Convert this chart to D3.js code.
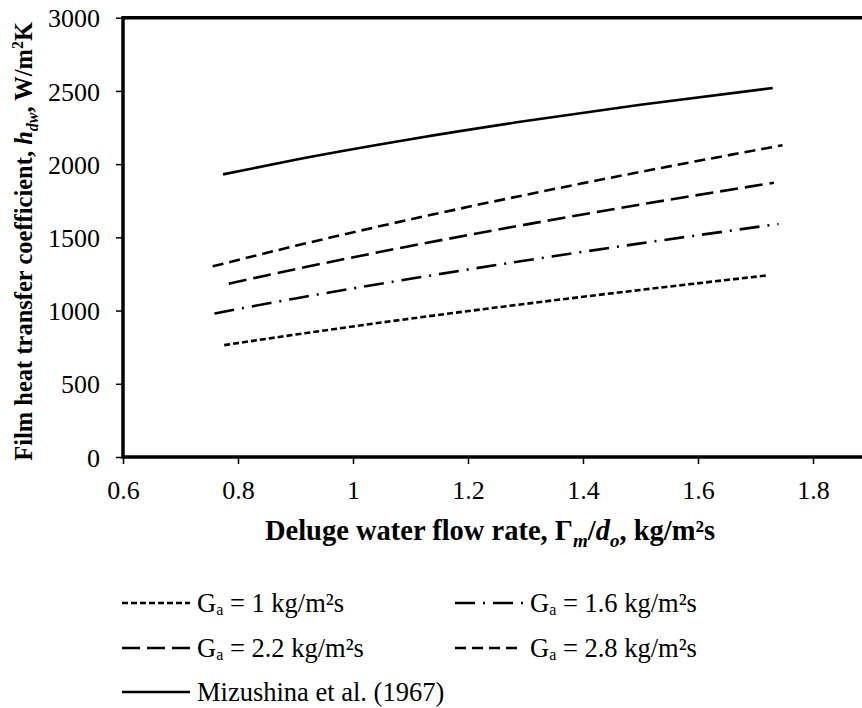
<!DOCTYPE html>
<html><head><meta charset="utf-8">
<script src="https://cdn.jsdelivr.net/npm/d3@7"></script>
<style>
body{margin:0;background:#fff}
svg{display:block}
svg text{font-family:'Liberation Serif','Times New Roman',serif !important;fill:#000}
</style>
</head><body>
<script>
// ---- data ----
const xTicks = [0.6, 0.8, 1, 1.2, 1.4, 1.6, 1.8];
const yTicks = [0, 500, 1000, 1500, 2000, 2500, 3000];

const ga1X   = [0.776, 0.9, 1.1, 1.3, 1.5, 1.723];
const ga1Y   = [764, 836, 945, 1046, 1141, 1241];
const ga16X  = [0.759, 0.9, 1.1, 1.3, 1.5, 1.740];
const ga16Y  = [980, 1083, 1217, 1342, 1459, 1591];
const ga22X  = [0.784, 0.9, 1.1, 1.3, 1.5, 1.732];
const ga22Y  = [1184, 1283, 1441, 1587, 1724, 1873];
const ga28X  = [0.756, 0.9, 1.1, 1.3, 1.5, 1.747];
const ga28Y  = [1302, 1442, 1623, 1790, 1947, 2129];
const mizX   = [0.774, 0.9, 1.1, 1.3, 1.5, 1.730];
const mizY   = [1930, 2030, 2170, 2294, 2406, 2520];

const seriesNames = ["Ga1", "Ga16", "Ga22", "Ga28", "Miz"];
const legendLabels = [
  ["G", "a", " = 1 kg/m²s"],
  ["G", "a", " = 1.6 kg/m²s"],
  ["G", "a", " = 2.2 kg/m²s"],
  ["G", "a", " = 2.8 kg/m²s"],
  ["Mizushina et al. (1967)", "", ""]
];

// ---- styles / layout ----
const dashes = ["6,3", "20,8,2,8", "18,7", "11,6", null];
const W = 862, H = 708;
const pLeft = 123, pRight = 813, pTop = 17.7, pBottom = 457;
const FONT = "'Liberation Serif','Times New Roman',serif";

const series = [
  [ga1X, ga1Y], [ga16X, ga16Y], [ga22X, ga22Y], [ga28X, ga28Y], [mizX, mizY]
].map((p, i) => ({name: seriesNames[i], pts: p[0].map((x, j) => [x, p[1][j]])}));

const svg = d3.select("body").append("svg").attr("width", W).attr("height", H)
  .attr("font-family", FONT);

const x = d3.scaleLinear().domain([0.6, 1.8]).range([pLeft, pRight]);
const y = d3.scaleLinear().domain([0, 3000]).range([pBottom, pTop]);

// axes
const xAxis = svg.append("g").attr("transform", `translate(0,${pBottom})`)
  .call(d3.axisBottom(x).tickValues(xTicks).tickSize(7).tickSizeOuter(0).tickFormat(d3.format("~g")));
const yAxis = svg.append("g").attr("transform", `translate(${pLeft},0)`)
  .call(d3.axisLeft(y).tickValues(yTicks).tickSize(7).tickSizeOuter(0).tickFormat(d3.format("d")));
[xAxis, yAxis].forEach(g => {
  g.attr("font-family", FONT).attr("font-size", 26);
  g.select(".domain").remove();
  g.selectAll(".tick line").attr("stroke", "#000").attr("stroke-width", 1.5);
  g.selectAll(".tick text").attr("fill", "#000");
});
xAxis.selectAll(".tick text").attr("dy", null).attr("y", 42);
yAxis.selectAll(".tick text").attr("x", -23).attr("dy", "0.35em");

// frame lines (plot extends past right edge)
svg.append("line").attr("x1", pLeft).attr("x2", W + 5).attr("y1", pTop).attr("y2", pTop)
  .attr("stroke", "#000").attr("stroke-width", 3.5);
svg.append("line").attr("x1", pLeft).attr("x2", W + 5).attr("y1", pBottom).attr("y2", pBottom)
  .attr("stroke", "#000").attr("stroke-width", 3.5);
svg.append("line").attr("x1", pLeft).attr("x2", pLeft).attr("y1", pTop - 1.75).attr("y2", pBottom + 1.75)
  .attr("stroke", "#000").attr("stroke-width", 3.5);

// lines
const line = d3.line().x(d => x(d[0])).y(d => y(d[1])).curve(d3.curveMonotoneX);
svg.append("g").selectAll("path").data(series).join("path")
  .attr("d", d => line(d.pts))
  .attr("fill", "none").attr("stroke", "#000").attr("stroke-width", 2.6)
  .attr("stroke-dasharray", (d, i) => dashes[i]);

// axis titles
const xt = svg.append("text").attr("x", 490).attr("y", 540)
  .attr("text-anchor", "middle").style("font-size", "28.5px").style("font-weight", "bold");
xt.append("tspan").text("Deluge water flow rate, Γ");
xt.append("tspan").text("m").style("font-style", "italic").style("font-size", "19px").attr("dy", 7);
xt.append("tspan").text("/").attr("dy", -7);
xt.append("tspan").text("d").style("font-style", "italic");
xt.append("tspan").text("o").style("font-style", "italic").style("font-size", "19px").attr("dy", 7);
xt.append("tspan").text(", kg/m²s").attr("dy", -7);

const yt = svg.append("text").attr("transform", `translate(32,${(pTop + pBottom) / 2 + 4}) rotate(-90)`)
  .attr("text-anchor", "middle").style("font-size", "24.5px").style("font-weight", "bold");
yt.append("tspan").text("Film heat transfer coefficient, ");
yt.append("tspan").text("h").style("font-style", "italic");
yt.append("tspan").text("dw").style("font-style", "italic").style("font-size", "16px").attr("dy", 6);
yt.append("tspan").text(", W/m").attr("dy", -6);
yt.append("tspan").text("2").style("font-size", "16px").attr("dy", -9);
yt.append("tspan").text("K").attr("dy", 9);

// legend
const legPos = [[122, 603], [455, 603], [122, 648], [455, 648], [122, 692]];
const leg = svg.append("g").selectAll("g").data(series).join("g")
  .attr("transform", (d, i) => `translate(${legPos[i][0]},${legPos[i][1]})`);
leg.append("line").attr("x1", 0).attr("x2", 68).attr("y1", 0).attr("y2", 0)
  .attr("stroke", "#000").attr("stroke-width", 2.6)
  .attr("stroke-dasharray", (d, i) => dashes[i]);
const lt = leg.append("text").attr("x", 75).attr("y", 9).style("font-size", "26.5px");
lt.append("tspan").text((d, i) => legendLabels[i][0]);
lt.append("tspan").text((d, i) => legendLabels[i][1]).style("font-size", "16px").attr("dy", 3);
lt.append("tspan").text((d, i) => legendLabels[i][2]).attr("dy", (d, i) => legendLabels[i][1] ? -3 : 0);
</script>
</body></html>
